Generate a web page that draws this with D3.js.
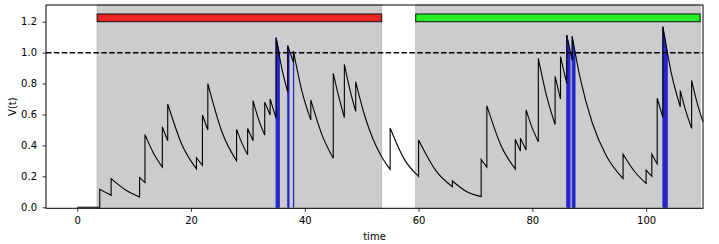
<!DOCTYPE html>
<html><head><meta charset="utf-8">
<script src="https://cdn.jsdelivr.net/npm/d3@7"></script>
<style>body{margin:0;background:#fff} svg{display:block;font-family:"DejaVu Sans",sans-serif}</style>
</head><body><svg id="c" width="719" height="244"></svg>
<script>
// ---------- data ----------
const xTicks = [0, 20, 40, 60, 80, 100];
const yTicks = [0.0, 0.2, 0.4, 0.6, 0.8, 1.0, 1.2];
const threshold = 1.0;
const regionStarts = [3.5, 59.5];
const regionEnds = [53.5, 109.5];
const regionColors = ["#ee2424", "#24ee24"];
const barBottom = 1.2, barTop = 1.25;
// decay runs of V(t); consecutive runs are joined by vertical jumps
const traceSegments = [
  [[0,0],[3.95,0]],
  [[3.95,0.116],[5.95,0.078]],
  [[5.95,0.185],[8.5,0.112],[10.95,0.067]],
  [[10.95,0.192],[11.9,0.16]],
  [[11.9,0.47],[13.4,0.35],[14.95,0.26]],
  [[14.95,0.52],[15.9,0.43]],
  [[15.9,0.668],[18.4,0.405],[20.95,0.248]],
  [[20.95,0.32],[22.0,0.272]],
  [[22.0,0.597],[22.95,0.50]],
  [[22.95,0.80],[25.5,0.48],[28.0,0.30]],
  [[28.0,0.504],[29.0,0.41],[29.95,0.34]],
  [[29.95,0.51],[30.9,0.43]],
  [[30.9,0.69],[31.9,0.565],[32.95,0.467]],
  [[32.95,0.68],[33.9,0.597]],
  [[33.9,0.70],[34.95,0.575]],
  [[34.95,1.097],[36.0,0.89],[37.0,0.745]],
  [[37.0,1.045],[38.0,0.935]],
  [[38.0,1.01],[39.5,0.75],[41.05,0.565]],
  [[41.05,0.694],[43.0,0.47],[45.0,0.317]],
  [[45.0,0.866],[46.0,0.71],[46.95,0.58]],
  [[46.95,0.924],[48.0,0.75],[48.95,0.62]],
  [[48.95,0.812],[50.5,0.595],[52.0,0.44],[53.5,0.327],[55.0,0.245]],
  [[55.0,0.513],[57.5,0.31],[60.0,0.2]],
  [[60.0,0.435],[63.0,0.239],[65.95,0.133]],
  [[65.95,0.17],[68.5,0.10],[71.0,0.069]],
  [[71.0,0.31],[72.0,0.26]],
  [[72.0,0.657],[74.5,0.398],[77.0,0.247]],
  [[77.0,0.44],[77.9,0.364]],
  [[77.9,0.446],[78.9,0.37]],
  [[78.9,0.63],[80.0,0.51],[81.05,0.424]],
  [[81.05,0.963],[82.5,0.72],[84.0,0.535]],
  [[84.0,0.846],[84.95,0.70]],
  [[84.95,0.974],[86.05,0.80]],
  [[86.05,1.114],[87.0,0.95]],
  [[87.0,1.105],[88.5,0.82],[90.5,0.55],[93.0,0.333],[95.95,0.185]],
  [[95.95,0.343],[98.0,0.23],[100.0,0.155]],
  [[100.0,0.24],[101.0,0.2]],
  [[101.0,0.343],[101.95,0.28]],
  [[101.95,0.705],[102.95,0.58]],
  [[102.95,1.167],[104.5,0.856],[106.0,0.65]],
  [[106.0,0.755],[107.0,0.62],[108.0,0.51]],
  [[108.0,0.82],[109.0,0.67],[110.0,0.553]]
];
// intervals where V(t) is above threshold
const spikeStarts = [34.95, 37.0, 38.0, 86.05, 87.0, 102.95];
const spikeEnds   = [35.52, 37.22, 38.05, 86.62, 87.5, 103.72];

// ---------- chart ----------
const W = 719, H = 244;
const L = 46, R = 703, T = 5, B = 208.3;
const svg = d3.select("#c");
const x = d3.scaleLinear().domain([-5.5, 110]).range([L, R]);
const y = d3.scaleLinear().domain([-0.0065, 1.308]).range([B, T]);

// shaded regions
svg.selectAll("rect.region").data(regionStarts).join("rect")
  .attr("class", "region")
  .attr("x", (d) => x(d)).attr("y", T)
  .attr("width", (d, i) => x(regionEnds[i]) - x(d)).attr("height", B - T)
  .attr("fill", "#cccccc").attr("stroke", "#bababa").attr("stroke-width", 1);

// top bars
svg.selectAll("rect.bar").data(regionStarts).join("rect")
  .attr("class", "bar")
  .attr("x", (d) => x(d)).attr("y", y(barTop))
  .attr("width", (d, i) => x(regionEnds[i]) - x(d)).attr("height", y(barBottom) - y(barTop))
  .attr("fill", (d, i) => regionColors[i]).attr("stroke", "#111").attr("stroke-width", 1);

// spike fills (from 0 up to V where V > threshold)
function valueAt(t) {
  for (const seg of traceSegments) if (seg[0][0] === t) return seg[0][1];
  return threshold;
}
svg.selectAll("path.spike").data(spikeStarts).join("path")
  .attr("class", "spike")
  .attr("d", (d, i) => d3.line()([
    [x(d), y(0)], [x(d), y(valueAt(d))], [x(spikeEnds[i]), y(threshold)], [x(spikeEnds[i]), y(0)]
  ]) + "Z")
  .attr("fill", "#2626cc").attr("stroke", "#2626cc").attr("stroke-width", 1);

// threshold
svg.append("line")
  .attr("x1", L).attr("x2", R).attr("y1", y(threshold)).attr("y2", y(threshold))
  .attr("stroke", "#000").attr("stroke-width", 1.5).attr("stroke-dasharray", "5.5,2.4");

// trace
const lineGen = d3.line().x((d) => x(d[0])).y((d) => y(d[1])).curve(d3.curveMonotoneX);
const pathD = traceSegments.map((seg, i) => {
  const s = lineGen(seg);
  return i === 0 ? s : "L" + s.slice(1);
}).join("");
svg.append("path").attr("d", pathD).attr("fill", "none")
  .attr("stroke", "#000").attr("stroke-width", 1.1).attr("stroke-linejoin", "miter");

// axes
const xAxis = svg.append("g").attr("transform", `translate(0,${B})`)
  .call(d3.axisBottom(x).tickValues(xTicks).tickFormat(d3.format("d")).tickSize(3.5).tickPadding(5));
const yAxis = svg.append("g").attr("transform", `translate(${L},0)`)
  .call(d3.axisLeft(y).tickValues(yTicks).tickFormat(d3.format(".1f")).tickSize(3.5).tickPadding(5.5));
[xAxis, yAxis].forEach((g) => {
  g.select(".domain").remove();
  g.selectAll("text").attr("font-size", 10).attr("fill", "#000").attr("font-family", "DejaVu Sans");
  g.selectAll("line").attr("stroke", "#000").attr("stroke-width", 0.8);
});

// spines
svg.append("rect").attr("x", L).attr("y", T).attr("width", R - L).attr("height", B - T)
  .attr("fill", "none").attr("stroke", "#000").attr("stroke-width", 1);

// labels
svg.append("text").attr("x", (L + R) / 2).attr("y", 240.3).attr("text-anchor", "middle")
  .attr("font-size", 10).text("time");
svg.append("text").attr("transform", `translate(15.5,${(T + B) / 2}) rotate(-90)`)
  .attr("text-anchor", "middle").attr("font-size", 10).text("V(t)");
</script></body></html>
